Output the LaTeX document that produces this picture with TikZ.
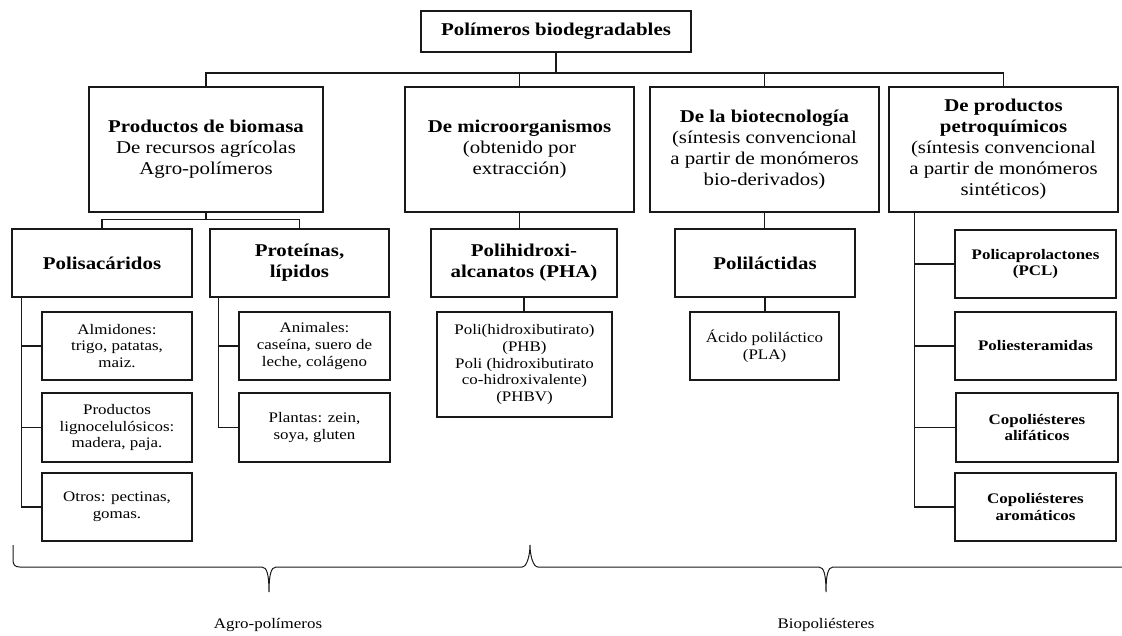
\documentclass[tikz,border=0pt]{standalone}
\usepackage{fontspec}
\setmainfont{Liberation Serif}[FakeStretch=1.16]
\usetikzlibrary{positioning}
\newcommand{\bigfont}{\fontsize{18}{21}\selectfont}
\newcommand{\smallfont}{\fontsize{14.6}{16.7}\selectfont}

\begin{document}
\begin{tikzpicture}[x=1pt,y=-1pt,line width=1.35pt,draw=black!90,
  box/.style={draw,rectangle,inner sep=0pt,align=center},
  mainbox/.style={box,minimum width=229pt,minimum height=125pt,font=\bigfont},
  groupbox/.style={box,minimum width=180pt,minimum height=68pt,font=\bigfont\bfseries},
  itembox/.style={box,minimum width=150pt,minimum height=68pt,font=\smallfont},
  typebox/.style={box,minimum width=161pt,minimum height=68pt,font=\smallfont\bfseries},
  tag/.style={font=\smallfont}]
  \useasboundingbox (0,0) rectangle (1122,635);
  \node[box,minimum width=270pt,minimum height=41pt,font=\bigfont\bfseries] (title) at (556,31.5) {Polímeros biodegradables};
  \node[mainbox,minimum width=234pt] (bio) at (206,149.5) {\textbf{Productos de biomasa}\\De recursos agrícolas\\Agro-polímeros};
  \node[mainbox] (micro) at (519.5,149.5) {\textbf{De microorganismos}\\(obtenido por\\extracción)};
  \node[mainbox] (biotec) at (764.5,149.5) {\textbf{De la biotecnología}\\(síntesis convencional\\a partir de monómeros\\bio-derivados)};
  \node[mainbox] (petro) at (1003.5,149.5) {\textbf{De productos}\\\textbf{petroquímicos}\\(síntesis convencional\\a partir de monómeros\\sintéticos)};
  \node[groupbox] (polis) at (102,263) {Polisacáridos};
  \node[groupbox,minimum width=179pt] (prot) at (299.5,263) {Proteínas,\\lípidos};
  \node[groupbox,minimum width=186pt] (pha) at (524,263) {Polihidroxi-\\alcanatos (PHA)};
  \node[groupbox] (lact) at (765,263) {Poliláctidas};
  \node[itembox] (almid) at (117,346) {Almidones:\\trigo, patatas,\\maiz.};
  \node[itembox,minimum height=69pt] (ligno) at (117,427.5) {Productos\\lignocelulósicos:\\madera, paja.};
  \node[itembox] (otros) at (117,507) {Otros: pectinas,\\gomas.};
  \node[itembox,minimum width=151pt] (anim) at (314.5,346) {Animales:\\caseína, suero de\\leche, colágeno};
  \node[itembox,minimum width=151pt,minimum height=69pt] (plant) at (314.5,427.5) {Plantas: zein,\\soya, gluten};
  \node[itembox,minimum width=175pt,minimum height=105pt] (phb) at (524.5,364.5) {Poli(hidroxibutirato)\\(PHB)\\Poli (hidroxibutirato\\co-hidroxivalente)\\(PHBV)};
  \node[itembox,minimum width=149pt] (pla) at (764.5,346) {Ácido poliláctico\\(PLA)};
  \node[typebox] (pcl) at (1035.5,264) {Policaprolactones\\(PCL)};
  \node[typebox] (ester) at (1035.5,346) {Poliesteramidas};
  \node[typebox,minimum width=162pt,minimum height=69pt] (alif) at (1037,427.5) {Copoliésteres\\alifáticos};
  \node[typebox] (arom) at (1035.5,507) {Copoliésteres\\aromáticos};
  \node[tag] (agro) at (268,625) {Agro-polímeros};
  \node[tag] (biopol) at (826,625) {Biopoliésteres};
  \coordinate (bus) at (0,73);
  \draw (title.south) -- (title.south |- bus);
  \draw (bio.north) |- (bus -| petro.north) -- (petro.north);
  \draw (micro.north) -- (micro.north |- bus);
  \draw (biotec.north) -- (biotec.north |- bus);
  \draw (bio.south) -- ++(0,7) -| (polis.north) (bio.south) ++(0,7) -| (prot.north);
  \draw (micro.south) -- (micro.south |- pha.north);
  \draw (biotec.south) -- (biotec.south |- lact.north);
  \draw (pha.south) -- (pha.south |- phb.north);
  \draw (lact.south) -- (lact.south |- pla.north);
  \foreach \n in {almid,ligno,otros} \draw ([xshift=10pt]polis.south west) |- (\n.west);
  \foreach \n in {anim,plant} \draw ([xshift=9pt]prot.south west) |- (\n.west);
  \foreach \n in {pcl,ester,alif,arom} \draw ([xshift=26pt]petro.south west) |- (\n.west);
  \draw[line width=1pt] (13,545) -- (13,560) .. controls (13,565) and (15,567) .. (20,567)
    -- (262,567) .. controls (267,567) and (269,575) .. (269,592)
    .. controls (269,575) and (271,567) .. (276,567)
    -- (522,567) .. controls (527,567) and (530,555) .. (530,545)
    .. controls (530,555) and (533,567) .. (538,567)
    -- (819,567) .. controls (824,567) and (826,575) .. (826,592)
    .. controls (826,575) and (828,567) .. (833,567) -- (1122,567);
\end{tikzpicture}
\end{document}
